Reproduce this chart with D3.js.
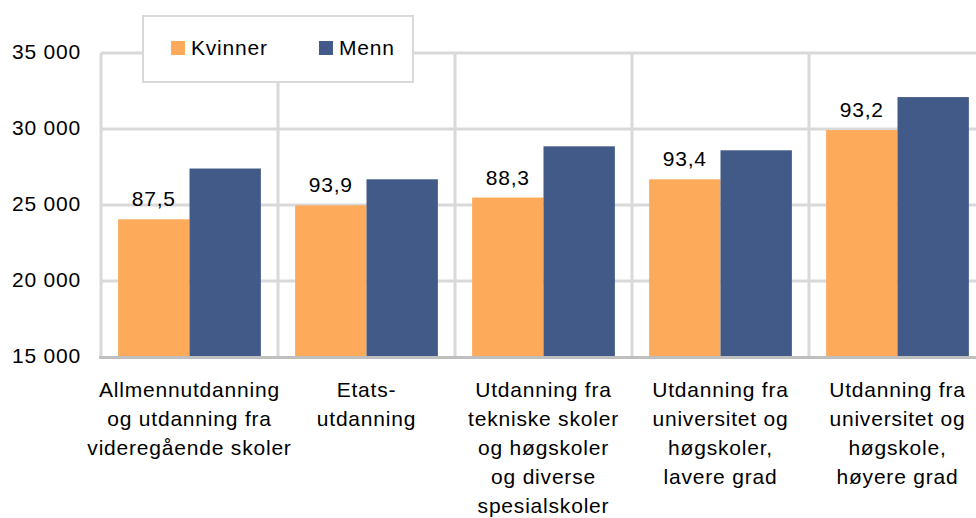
<!DOCTYPE html>
<html>
<head>
<meta charset="utf-8">
<script src="https://cdn.jsdelivr.net/npm/d3@7"></script>
<style>
  body { margin: 0; background: #fff; }
  svg { display: block; }
  text { font-family: "Liberation Sans", Arial, sans-serif; font-size: 21px; fill: #000; letter-spacing: 0.8px; }
</style>
</head>
<body>
<div id="chart"></div>
<script>
    var width = 976,
        height = 518;

    // data
    var categories = ["allmenn", "etat", "teknisk", "lavere", "hoyere"];
    var categoryLabels = [
      ["Allmennutdanning", "og utdanning fra", "videregående skoler"],
      ["Etats-", "utdanning"],
      ["Utdanning fra", "tekniske skoler", "og høgskoler", "og diverse", "spesialskoler"],
      ["Utdanning fra", "universitet og", "høgskoler,", "lavere grad"],
      ["Utdanning fra", "universitet og", "høgskole,", "høyere grad"]
    ];
    var series = ["Kvinner", "Menn"];
    var kvinner = [24060, 24980, 25490, 26690, 29930];
    var menn = [27400, 26690, 28860, 28600, 32100];
    var andel = [87.5, 93.9, 88.3, 93.4, 93.2];
    var yTicks = [15000, 20000, 25000, 30000, 35000];

    var colors = { Kvinner: "#fdaa5b", Menn: "#415a87" };
    var gridColor = "#d9d9d9";

    var locale = d3.formatLocale({ decimal: ",", thousands: " ", grouping: [3], currency: ["", ""] });
    var fmtTick = locale.format(",d"),
        fmtPct = locale.format(".1f");

    var plotLeft = 101, plotTop = 53, plotBottom = 357, step = 177;

    var x0 = d3.scaleBand()
      .domain(categories)
      .range([plotLeft, plotLeft + step * categories.length])
      .padding(0);

    var x1 = d3.scaleBand()
      .domain(series)
      .range([0, x0.bandwidth()])
      .paddingInner(0)
      .paddingOuter(0.24);

    var y = d3.scaleLinear()
      .domain([15000, 35000])
      .range([plotBottom, plotTop]);

    var svg = d3.select("#chart").append("svg")
      .attr("width", width)
      .attr("height", height);

    // horizontal gridlines
    svg.append("g")
      .selectAll("line")
      .data(yTicks.slice(1))
      .join("line")
      .attr("x1", plotLeft)
      .attr("x2", width)
      .attr("y1", function(d) { return y(d); })
      .attr("y2", function(d) { return y(d); })
      .attr("stroke", gridColor)
      .attr("stroke-width", 3);

    // vertical gridlines at the group boundaries
    svg.append("g")
      .selectAll("line")
      .data(categories)
      .join("line")
      .attr("x1", function(d) { return x0(d); })
      .attr("x2", function(d) { return x0(d); })
      .attr("y1", y(35000))
      .attr("y2", plotBottom)
      .attr("stroke", gridColor)
      .attr("stroke-width", 3);

    var rows = categories.map(function(c, i) {
      return { cat: c, values: [{ key: "Kvinner", v: kvinner[i] }, { key: "Menn", v: menn[i] }] };
    });

    var groups = svg.append("g")
      .selectAll("g")
      .data(rows)
      .join("g")
      .attr("transform", function(d) { return "translate(" + x0(d.cat) + ",0)"; });

    groups.selectAll("rect")
      .data(function(d) { return d.values; })
      .join("rect")
      .attr("x", function(d) { return x1(d.key); })
      .attr("width", x1.bandwidth())
      .attr("y", function(d) { return y(d.v); })
      .attr("height", function(d) { return y(15000) - y(d.v); })
      .attr("fill", function(d) { return colors[d.key]; });

    // ratio labels above the Kvinner bars
    svg.append("g")
      .selectAll("text")
      .data(categories)
      .join("text")
      .attr("x", function(d) { return x0(d) + x1("Kvinner") + x1.bandwidth() / 2; })
      .attr("y", function(d, i) { return y(kvinner[i]) - 13; })
      .attr("text-anchor", "middle")
      .text(function(d, i) { return fmtPct(andel[i]); });

    // x axis line
    svg.append("line")
      .attr("x1", plotLeft - 2)
      .attr("x2", width)
      .attr("y1", plotBottom + 0.5)
      .attr("y2", plotBottom + 0.5)
      .attr("stroke", "#bfbfbf")
      .attr("stroke-width", 3);

    // y axis
    var yAxis = svg.append("g")
      .attr("transform", "translate(" + plotLeft + ",0)")
      .call(d3.axisLeft(y).tickValues(yTicks).tickFormat(fmtTick).tickSize(0).tickPadding(20));
    yAxis.select(".domain").remove();
    yAxis.selectAll("text")
      .attr("dy", "0.28em")
      .style("font-size", "21px")
      .style("font-family", "'Liberation Sans', Arial, sans-serif")
      .attr("fill", "#000");

    // category labels
    svg.append("g")
      .selectAll("text")
      .data(categories)
      .join("text")
      .attr("text-anchor", "middle")
      .attr("x", function(d) { return x0(d) + x0.bandwidth() / 2; })
      .attr("y", 397)
      .each(function(d, i) {
        d3.select(this).selectAll("tspan")
          .data(categoryLabels[i])
          .join("tspan")
          .attr("x", x0(d) + x0.bandwidth() / 2)
          .attr("dy", function(t, j) { return j === 0 ? 0 : 29; })
          .text(function(t) { return t; });
      });

    // legend
    var legend = svg.append("g");
    legend.append("rect")
      .attr("x", 143)
      .attr("y", 16)
      .attr("width", 270)
      .attr("height", 66)
      .attr("fill", "#fff")
      .attr("stroke", gridColor)
      .attr("stroke-width", 2);

    var legendX = d3.scaleOrdinal().domain(series).range([171, 319]);
    var item = legend.selectAll("g")
      .data(series)
      .join("g")
      .attr("transform", function(d) { return "translate(" + legendX(d) + ",41)"; });
    item.append("rect")
      .attr("width", 14)
      .attr("height", 14)
      .attr("fill", function(d) { return colors[d]; });
    item.append("text")
      .attr("x", 20)
      .attr("y", 14)
      .text(function(d) { return d; });
</script>
</body>
</html>
